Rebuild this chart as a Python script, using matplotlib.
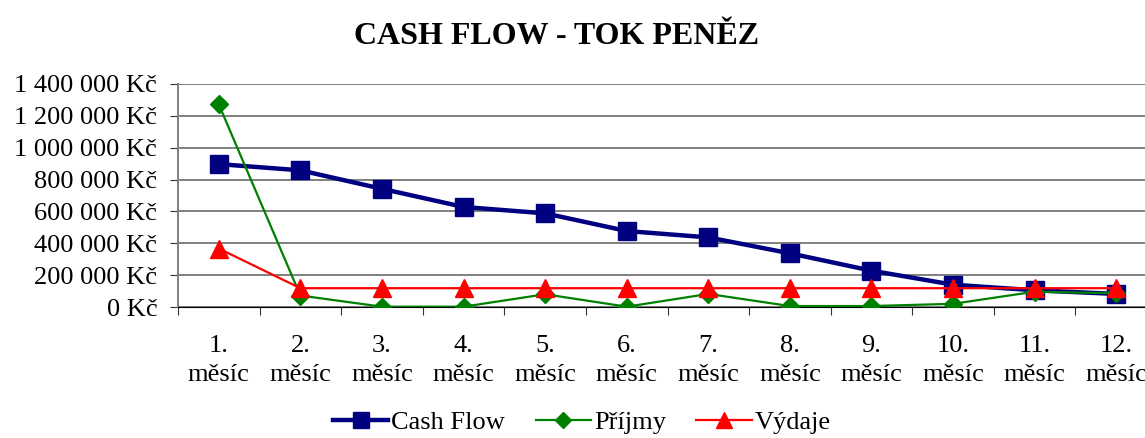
import matplotlib
matplotlib.use("Agg")
import matplotlib.pyplot as plt
from matplotlib.ticker import FuncFormatter

months = [f"{i}.\nměsíc" for i in range(1, 13)]
cash_flow = [897000, 858000, 742000, 628000, 588000, 477000, 437000, 337000, 228000, 140000, 105000, 82000]
prijmy = [1272000, 72000, 2000, 2000, 80000, 2000, 82000, 6000, 6000, 20000, 96000, 86000]
vydaje = [367000, 118000, 118000, 118000, 118000, 118000, 118000, 118000, 118000, 118000, 118000, 118000]
yticks = [0, 200000, 400000, 600000, 800000, 1000000, 1200000, 1400000]

plt.rcParams['font.family'] = ['Liberation Serif', 'DejaVu Serif']

fig = plt.figure(figsize=(11.45, 4.38), dpi=100)
ax = fig.add_axes([178/1145, 1-307/438, (1157-178)/1145, (307-84)/438])

x = list(range(len(months)))
ax.plot(x, cash_flow, color='#000080', lw=3.2, marker='s', ms=13.5, label='Cash Flow', zorder=3)
ax.plot(x, prijmy, color='#008000', lw=1.6, marker='D', ms=9, label='Příjmy', zorder=4)
ax.plot(x, vydaje, color='#ff0000', lw=1.6, marker='^', ms=13, label='Výdaje', zorder=5)

ax.set_xlim(-0.5, 11.5)
ax.set_ylim(0, 1400000)
ax.set_yticks(yticks)
ax.yaxis.set_major_formatter(FuncFormatter(lambda v, p: f"{int(v):,} Kč".replace(",", " ")))
ax.grid(axis='y', color='#808080', lw=1.4)
ax.set_axisbelow(True)

ax.set_xticks([i - 0.5 for i in range(13)])
ax.set_xticklabels([])
ax.set_xticks(x, minor=True)
ax.set_xticklabels(months, minor=True, fontsize=19, linespacing=1.45)
ax.tick_params(axis='x', which='major', direction='out', length=6, color='#333333')
ax.tick_params(axis='x', which='minor', length=0, pad=20)
ax.tick_params(axis='y', direction='out', length=6, labelsize=19, pad=9, color='#333333')

for s in ['top', 'right']:
    ax.spines[s].set_visible(False)
ax.spines['left'].set_color('#808080')
ax.spines['bottom'].set_color('#000000')
ax.spines['left'].set_linewidth(1.4)

fig.text(557/1145, 1-37/438, "CASH FLOW - TOK PENĚZ", ha='center', va='center', fontsize=23, fontweight='bold')

fig.legend(loc='center', bbox_to_anchor=(582/1145, 1-422/438), ncol=3, frameon=False,
           fontsize=19, handlelength=2.1, handletextpad=0.12, columnspacing=1.15, markerscale=0.85)

fig.savefig("out.png", dpi=100)
